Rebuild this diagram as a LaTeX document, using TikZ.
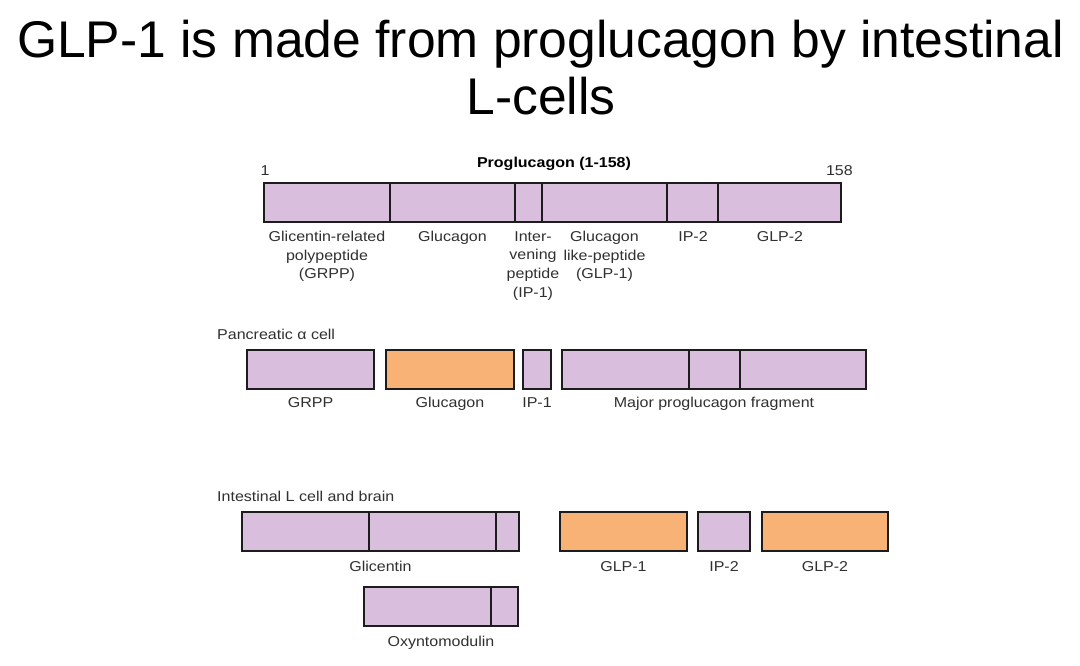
\documentclass[tikz,border=0pt]{standalone}
\usepackage{fontspec}
\setmainfont{Liberation Sans}
\newfontfamily\bodyfont[FakeStretch=1.12]{Liberation Sans}
\definecolor{lav}{HTML}{D9BEDD}
\definecolor{org}{HTML}{F9B276}
\definecolor{edgec}{HTML}{1C1C1C}
\definecolor{txt}{HTML}{303030}
\begin{document}
\begin{tikzpicture}[x=1pt,y=-1pt,
  seg/.style={draw=edgec, line width=1.9pt, fill=lav, inner sep=0pt, outer sep=0pt,
              anchor=north west, minimum height=39pt},
  oseg/.style={seg, fill=org},
  lbl/.style={font=\bodyfont\fontsize{14.3}{18.7}\selectfont, text=txt, inner sep=0pt,
              anchor=north, align=center},
  ttl/.style={font=\fontsize{51.6}{58}\selectfont, text=black, inner sep=0pt, anchor=base}
]
\useasboundingbox (0,0) rectangle (1080,665);
\fill[white] (0,0) rectangle (1080,665);

% title
\node[ttl] (t1) at (540.5,57) {GLP-1 is made from proglucagon by intestinal};
\node[ttl] (t2) at (541,114) {L-cells};

% proglucagon
\node[lbl, font=\bodyfont\bfseries\fontsize{14.3}{18.7}\selectfont, text=black] (ptitle) at (554,157) {Proglucagon (1-158)};
\node[lbl] (n1) at (265,165) {1};
\node[lbl, anchor=north east] (n158) at (853,165) {158};

\node[seg, minimum width=126pt] (p1) at (264,183) {};
\node[seg, minimum width=125pt] (p2) at (390,183) {};
\node[seg, minimum width=27pt]  (p3) at (515,183) {};
\node[seg, minimum width=125pt] (p4) at (542,183) {};
\node[seg, minimum width=51pt]  (p5) at (667,183) {};
\node[seg, minimum width=123pt] (p6) at (718,183) {};

\node[lbl] (lp1) at (327,231) {Glicentin-related\\polypeptide\\(GRPP)};
\node[lbl] (lp2) at (452.5,231) {Glucagon};
\node[lbl] (lp3) at (533,231) {Inter-\\vening\\peptide\\(IP-1)};
\node[lbl] (lp4) at (604.5,231) {Glucagon\\like-peptide\\(GLP-1)};
\node[lbl] (lp5) at (693,231) {IP-2};
\node[lbl] (lp6) at (780,231) {GLP-2};

% pancreatic alpha cell
\node[lbl, anchor=north west] (pan) at (217,329) {Pancreatic α cell};
\node[seg,  minimum width=127pt] (a1) at (247,350) {};
\node[oseg, minimum width=128pt] (a2) at (386,350) {};
\node[seg,  minimum width=28pt]  (a3) at (523,350) {};
\node[seg,  minimum width=127pt] (a4) at (562,350) {};
\node[seg,  minimum width=51pt]  (a5) at (689,350) {};
\node[seg,  minimum width=126pt] (a6) at (740,350) {};

\node[lbl] (la1) at (310.5,397) {GRPP};
\node[lbl] (la2) at (450,397) {Glucagon};
\node[lbl] (la3) at (537,397) {IP-1};
\node[lbl] (la4) at (714,397) {Major proglucagon fragment};

% intestinal L cell
\node[lbl, anchor=north west] (int) at (217,491) {Intestinal L cell and brain};
\node[seg,  minimum width=127pt] (b1) at (242,512) {};
\node[seg,  minimum width=127pt] (b2) at (369,512) {};
\node[seg,  minimum width=23pt]  (b3) at (496,512) {};
\node[oseg, minimum width=127pt] (b4) at (560,512) {};
\node[seg,  minimum width=52pt]  (b5) at (698,512) {};
\node[oseg, minimum width=126pt] (b6) at (762,512) {};

\node[lbl] (lb1) at (380.5,561) {Glicentin};
\node[lbl] (lb4) at (623.5,561) {GLP-1};
\node[lbl] (lb5) at (724,561) {IP-2};
\node[lbl] (lb6) at (825,561) {GLP-2};

\node[seg, minimum width=127pt] (c1) at (364,587) {};
\node[seg, minimum width=27pt]  (c2) at (491,587) {};
\node[lbl] (lc1) at (441,636) {Oxyntomodulin};
\end{tikzpicture}
\end{document}
